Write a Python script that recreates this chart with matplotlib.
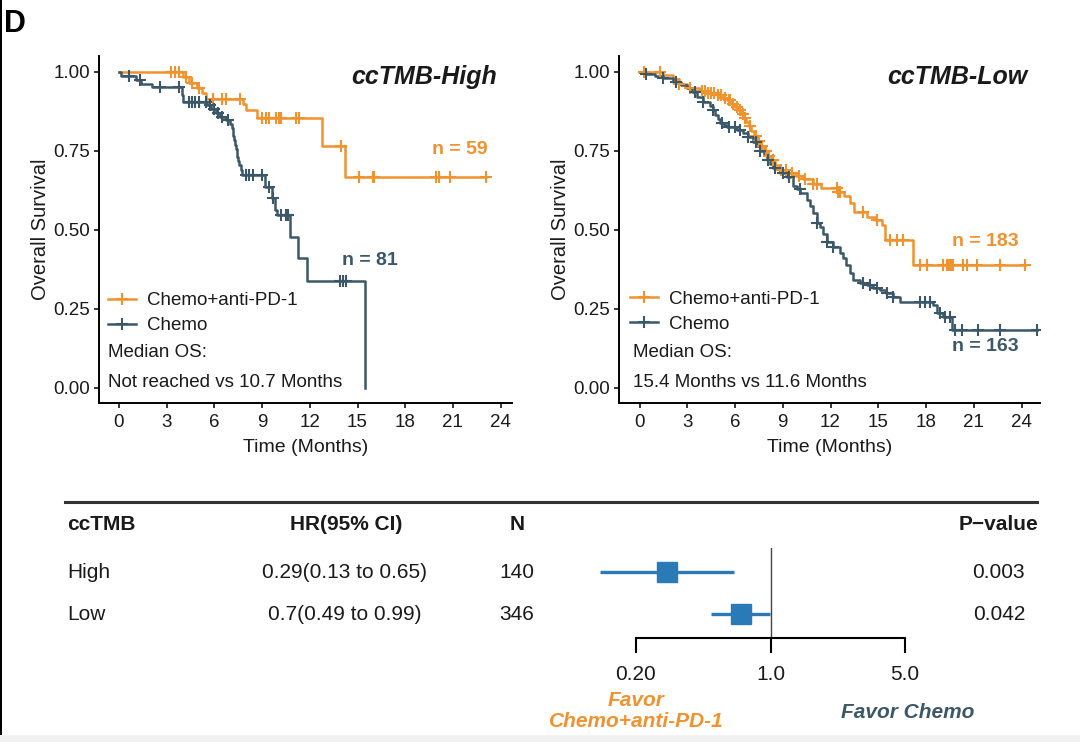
import numpy as np
import matplotlib
matplotlib.use('Agg')
import matplotlib.pyplot as plt
from matplotlib.lines import Line2D
from matplotlib.patches import Rectangle
from matplotlib import font_manager

# ---------------- data ----------------
# ccTMB-High panel
hi_imm_t = [0, 4.0, 4.4, 4.9, 5.2, 5.45, 7.8, 8.0, 8.7, 12.75, 14.2]
hi_imm_s = [1.0, 0.983, 0.966, 0.949, 0.932, 0.915, 0.898, 0.881, 0.855, 0.766, 0.668]
hi_imm_end = 23.1
hi_imm_cens = [3.3, 3.55, 3.8, 4.2, 4.6, 5.0, 5.9, 6.5, 6.7, 7.6, 9.0, 9.25, 9.45,
               9.9, 10.05, 10.2, 11.15, 11.35, 13.95, 15.1, 15.95, 16.05, 19.95,
               20.15, 20.8, 23.1]

hi_che_t = [0, 0.15, 1.05, 1.4, 2.1, 3.95, 4.05, 5.55, 5.8, 6.1, 6.35, 6.7, 7.0,
            7.1, 7.15, 7.2, 7.25, 7.3, 7.35, 7.4, 7.45, 7.5, 7.55, 7.65, 7.75,
            9.18, 9.6, 9.81, 9.92, 10.75, 11.28, 11.8, 15.47]
hi_che_s = [1.0, 0.988, 0.975, 0.963, 0.951, 0.928, 0.906, 0.894, 0.882, 0.870,
            0.858, 0.847, 0.835, 0.822, 0.809, 0.796, 0.783, 0.770, 0.757, 0.744,
            0.731, 0.718, 0.705, 0.690, 0.674, 0.636, 0.600, 0.563, 0.547, 0.478,
            0.410, 0.338, 0.0]
hi_che_end = 15.47
hi_che_cens = [0.6, 1.3, 2.6, 3.8, 4.4, 4.6, 4.8, 5.05, 5.45, 5.7, 5.95, 6.2, 6.5,
               6.85, 7.98, 8.2, 8.4, 9.0, 9.45, 9.7, 10.2, 10.5, 10.65, 13.9, 14.1, 14.3]

# ccTMB-Low panel
lo_imm_t = [0, 1.5, 2.1, 2.5, 3.0, 3.8, 4.2, 4.85, 5.2, 5.5, 5.8, 6.0, 6.2, 6.4,
            6.55, 6.7, 6.85, 7.0, 7.2, 7.4, 7.6, 7.85, 8.05, 8.25, 8.5, 8.8, 9.3,
            9.8, 10.3, 10.9, 11.4, 12.4, 12.85, 13.25, 13.5, 14.3, 14.8, 15.25,
            15.4, 17.2]
lo_imm_s = [1.0, 0.989, 0.978, 0.962, 0.950, 0.940, 0.933, 0.926, 0.918, 0.910,
            0.900, 0.890, 0.878, 0.866, 0.854, 0.842, 0.828, 0.812, 0.797, 0.780,
            0.764, 0.748, 0.734, 0.720, 0.706, 0.690, 0.680, 0.670, 0.660, 0.645,
            0.632, 0.620, 0.608, 0.585, 0.557, 0.540, 0.530, 0.515, 0.467, 0.388]
lo_imm_end = 24.2
lo_imm_cens = [0.3, 1.3, 2.5, 3.2, 3.9, 4.1, 4.3, 4.5, 4.7, 4.95, 5.1, 5.35, 5.6,
               5.7, 5.9, 6.1, 6.3, 6.5, 6.65, 6.95, 7.3, 7.5, 7.7, 7.95, 8.15, 8.4,
               8.9, 9.2, 9.6, 10.0, 10.4, 10.92, 11.13, 12.39, 12.49, 12.59, 14.06,
               14.9, 15.73, 16.16, 16.57, 17.6, 18.04, 19.08, 19.3, 19.4, 19.5,
               19.6, 19.7, 20.34, 20.55, 21.18, 22.64, 24.2]

lo_che_t = [0, 0.4, 1.0, 1.5, 2.1, 2.6, 3.0, 3.3, 3.6, 4.0, 4.4, 4.6, 4.75, 4.9,
            5.05, 5.3, 5.5, 6.1, 6.5, 6.8, 7.15, 7.4, 7.6, 7.8, 8.0, 8.2, 8.4, 8.8,
            9.25, 9.65, 9.9, 10.1, 10.5, 10.7, 10.92, 11.13, 11.34, 11.55, 11.76,
            12.17, 12.59, 12.8, 13.0, 13.2, 13.43, 13.85, 14.27, 14.69, 15.1, 15.5,
            15.94, 16.36, 18.45, 18.67, 19.08, 19.6]
lo_che_s = [1.0, 0.994, 0.988, 0.982, 0.969, 0.958, 0.948, 0.936, 0.922, 0.906,
            0.892, 0.878, 0.864, 0.850, 0.837, 0.831, 0.827, 0.816, 0.806, 0.795,
            0.778, 0.764, 0.750, 0.736, 0.722, 0.708, 0.695, 0.680, 0.668, 0.640,
            0.630, 0.616, 0.594, 0.575, 0.552, 0.520, 0.510, 0.486, 0.462, 0.446,
            0.425, 0.410, 0.388, 0.362, 0.341, 0.330, 0.325, 0.314, 0.309, 0.299,
            0.288, 0.272, 0.261, 0.235, 0.224, 0.182]
lo_che_end = 24.95
lo_che_cens = [0.4, 1.5, 2.3, 3.5, 4.0, 4.6, 5.2, 5.6, 6.0, 6.3, 6.8, 7.3, 7.6, 8.1,
               8.5, 9.0, 9.4, 10.08, 11.13, 11.76, 12.17, 14.06, 14.48, 14.9, 15.53,
               15.94, 17.6, 17.93, 18.25, 18.88, 19.19, 19.5, 19.82, 20.24, 21.28,
               22.64, 24.95]

group_labels = ['Chemo+anti-PD-1', 'Chemo']
panel_titles = ['ccTMB-High', 'ccTMB-Low']
n_labels = [['n = 59', 'n = 81'], ['n = 183', 'n = 163']]
median_text = ['Not reached vs 10.7 Months', '15.4 Months vs 11.6 Months']
x_ticks = [0, 3, 6, 9, 12, 15, 18, 21, 24]
y_ticks = [0.0, 0.25, 0.5, 0.75, 1.0]

# forest table
fp_groups = ['High', 'Low']
fp_hr = [0.29, 0.7]
fp_lo = [0.13, 0.49]
fp_hi = [0.65, 0.99]
fp_n = [140, 346]
fp_p = ['0.003', '0.042']
fp_ticks = [0.2, 1.0, 5.0]
fp_ticklabels = ['0.20', '1.0', '5.0']

# ---------------- style ----------------
W, H, DPI = 1080, 742, 100
ORANGE = '#F0922E'
DARK = '#3A5868'
BLUE = '#2A7AB8'
TXT = '#1a1a1a'

names = {f.name for f in font_manager.fontManager.ttflist}
NARROW = 'Liberation Sans Narrow' if 'Liberation Sans Narrow' in names else 'Liberation Sans'
plt.rcParams['font.family'] = ['Liberation Sans', 'DejaVu Sans']

fig = plt.figure(figsize=(W / DPI, H / DPI), dpi=DPI)


def fx(x):
    return x / W


def fy(y):
    return 1 - y / H


def add_axes_px(L, T, R, B):
    return fig.add_axes([L / W, 1 - B / H, (R - L) / W, (B - T) / H])


def surv_at(times, surv, c):
    idx = np.searchsorted(np.asarray(times), np.asarray(c), side='right') - 1
    return np.asarray(surv)[idx]


panels = [
    dict(px=(99, 56.2, 512, 403.3), x0=119, ppm=15.9,
         curves=[(hi_imm_t, hi_imm_s, hi_imm_end, hi_imm_cens, ORANGE),
                 (hi_che_t, hi_che_s, hi_che_end, hi_che_cens, DARK)],
         npos=[(460, 150), (370, 260)], title_right=497, leg_left=108,
         leg_center=313, med_left=108),
    dict(px=(619, 56.2, 1040, 403.3), x0=639.5, ppm=15.92,
         curves=[(lo_imm_t, lo_imm_s, lo_imm_end, lo_imm_cens, ORANGE),
                 (lo_che_t, lo_che_s, lo_che_end, lo_che_cens, DARK)],
         npos=[(985, 241), (985, 346)], title_right=1027, leg_left=630,
         leg_center=311.5, med_left=633),
]

for k, pn in enumerate(panels):
    L, T, R, B = pn['px']
    ax = add_axes_px(L, T, R, B)
    x0, ppm = pn['x0'], pn['ppm']
    ax.set_xlim((L - x0) / ppm, (R - x0) / ppm)
    ax.set_ylim(-0.05, 1.05)

    def px2data(px, py):
        return (px - x0) / ppm, (387.5 - py) / 315.5

    handles = []
    for (t, s, end, cens, col) in pn['curves']:
        tt = list(t) + [end]
        ss = list(s) + [s[-1]]
        ax.step(tt, ss, where='post', color=col, lw=1.8, zorder=3)
        cy = surv_at(t, s, cens)
        ax.plot(cens, cy, ls='none', marker='+', ms=8, mew=1.5, color=col, zorder=4)
        handles.append(Line2D([], [], color=col, lw=1.8, marker='+', ms=8, mew=1.5))

    for spn in ['top', 'right']:
        ax.spines[spn].set_visible(False)
    for spn in ['left', 'bottom']:
        ax.spines[spn].set_linewidth(1.4)
        ax.spines[spn].set_color('black')
    ax.set_xticks(x_ticks)
    ax.set_yticks(y_ticks)
    ax.set_yticklabels(['%.2f' % v for v in y_ticks])
    ax.tick_params(direction='out', length=3.5, width=1.1, labelsize=13.5,
                   labelcolor=TXT, pad=3)
    ax.tick_params(axis='x', pad=4)
    ax.set_xlabel('Time (Months)', fontsize=14, color=TXT)
    ax.set_ylabel('Overall Survival', fontsize=14.5, color=TXT)
    ax.xaxis.label.set_va('center')
    ax.xaxis.set_label_coords(0.5, (B - 448) / (B - T))
    ax.yaxis.label.set_va('center')
    ax.yaxis.set_label_coords(((40 if k == 0 else 561) - L) / (R - L), 0.5)

    # title
    tx, ty = px2data(pn['title_right'], 77)
    ax.text(tx, ty, panel_titles[k], ha='right', va='center', fontsize=18,
            fontweight='bold', fontstyle='italic', color=TXT)
    # n labels
    for j, (nx, ny) in enumerate(pn['npos']):
        dx, dy = px2data(nx, ny)
        ax.text(dx, dy, n_labels[k][j], ha='center', va='center', fontsize=14,
                fontweight='bold', color=[ORANGE, DARK][j])
    # legend
    leg = ax.legend(handles, group_labels, loc='center left',
                    bbox_to_anchor=((pn['leg_left'] - L) / (R - L),
                                    (B - pn['leg_center']) / (B - T)),
                    frameon=False, fontsize=13.5, handlelength=1.5,
                    handletextpad=0.6, labelspacing=0.42, borderpad=0,
                    borderaxespad=0)
    for txt in leg.get_texts():
        txt.set_color(TXT)
    fig.text(fx(pn['med_left']), fy(352), 'Median OS:', ha='left', va='center',
             fontsize=13.5, color=TXT)
    fig.text(fx(pn['med_left']), fy(383), median_text[k], ha='left', va='center',
             fontsize=13.5, color=TXT)

# ---------------- forest part ----------------
fig.add_artist(Line2D([fx(65), fx(1037)], [fy(502), fy(502)], lw=2.2, color='#333333'))

NF = dict(family=[NARROW, 'DejaVu Sans'], color=TXT)
hy = 524
fig.text(fx(67), fy(hy), 'ccTMB', ha='left', va='center', fontsize=15, fontweight='bold', **NF)
fig.text(fx(346), fy(hy), 'HR(95% CI)', ha='center', va='center', fontsize=15, fontweight='bold', **NF)
fig.text(fx(517), fy(hy), 'N', ha='center', va='center', fontsize=15, fontweight='bold', **NF)
fig.text(fx(1038), fy(hy), 'P\u2212value', ha='right', va='center', fontsize=15, fontweight='bold', **NF)

row_y = [572, 614]
for i, g in enumerate(fp_groups):
    y = row_y[i]
    fig.text(fx(67), fy(y), g, ha='left', va='center', fontsize=15, **NF)
    fig.text(fx(345), fy(y), f'{fp_hr[i]}({fp_lo[i]} to {fp_hi[i]})', ha='center',
             va='center', fontsize=15, **NF)
    fig.text(fx(517), fy(y), str(fp_n[i]), ha='center', va='center', fontsize=15, **NF)
    fig.text(fx(1025), fy(y), fp_p[i], ha='right', va='center', fontsize=15, **NF)

axf = add_axes_px(636, 548, 905, 638)
axf.set_xscale('log')
axf.set_xlim(0.2, 5)
axf.set_ylim(-24 / 42, 1 + 24 / 42)
ypos = [1, 0]
axf.axvline(1.0, color='#444444', lw=1.0, zorder=1)
for i in range(len(fp_groups)):
    axf.plot([fp_lo[i], fp_hi[i]], [ypos[i], ypos[i]], color=BLUE, lw=2.4,
             solid_capstyle='butt', zorder=2, clip_on=False)
    axf.plot([fp_hr[i]], [ypos[i]], marker='s', ms=[14.5, 15][i], color=BLUE,
             ls='none', zorder=3, clip_on=False)
for spn in ['top', 'right', 'left']:
    axf.spines[spn].set_visible(False)
axf.spines['bottom'].set_linewidth(1.5)
axf.spines['bottom'].set_bounds(0.2, 5)
axf.set_yticks([])
axf.xaxis.set_minor_locator(matplotlib.ticker.NullLocator())
axf.set_xticks(fp_ticks)
axf.set_xticklabels(fp_ticklabels)
axf.tick_params(axis='x', direction='out', length=10.5, width=1.5, pad=9,
                labelsize=15, labelcolor=TXT)
for lab in axf.get_xticklabels():
    lab.set_family([NARROW, 'DejaVu Sans'])
axf.patch.set_visible(False)

fig.text(fx(636), fy(711), 'Favor\nChemo+anti-PD-1', ha='center', va='center',
         fontsize=15, fontweight='bold', fontstyle='italic', linespacing=1.15,
         family=[NARROW, 'DejaVu Sans'], color=ORANGE)
fig.text(fx(908), fy(712), 'Favor Chemo', ha='center', va='center', fontsize=15,
         fontweight='bold', fontstyle='italic', family=[NARROW, 'DejaVu Sans'],
         color=DARK)

# panel letter, frame edge and bottom strip
fig.text(fx(4), fy(24), 'D', ha='left', va='center', fontsize=22, fontweight='bold',
         color='black')
fig.add_artist(Rectangle((0, 0), 2 / W, 1, transform=fig.transFigure,
                         color='black', lw=0))
fig.add_artist(Rectangle((0, 0), 1, 7 / H, transform=fig.transFigure,
                         facecolor='#f1f1f1', edgecolor='none'))

fig.savefig('out.png', dpi=DPI)
